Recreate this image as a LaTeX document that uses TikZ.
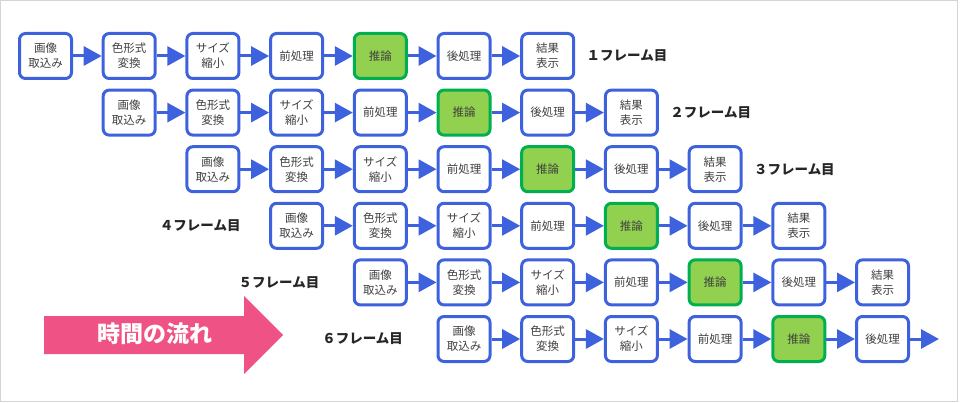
\documentclass[tikz,border=0pt]{standalone}
\usepackage{fontspec}
\newfontfamily\jp{Noto Sans CJK JP}
\usepackage{xcolor}
\usepackage{tikz}
\usetikzlibrary{arrows.meta, positioning}

\definecolor{flowblue}{RGB}{62,98,222}
\definecolor{infergreen}{RGB}{0,176,80}
\definecolor{inferfill}{RGB}{146,208,80}
\definecolor{timepink}{RGB}{239,82,133}
\definecolor{framegray}{RGB}{212,212,212}

\begin{document}
\begin{tikzpicture}[
    x=1pt, y=-1pt,
    node distance=28.7pt,
    stage/.style  = {draw=flowblue, line width=3pt, rounded corners=6pt,
                     fill=white, minimum width=52pt, minimum height=45pt,
                     inner sep=1pt, align=center, text=black!75,
                     font=\jp\fontsize{11.5}{15}\selectfont},
    infer/.style  = {stage, draw=infergreen, fill=inferfill},
    framelab/.style = {font=\jp\bfseries\fontsize{13.5}{15}\selectfont,
                     text=black!85},
    flow/.style   = {-{Triangle[length=18pt,width=19pt]}, draw=flowblue,
                     line width=3pt},
    timelab/.style = {font=\jp\bfseries\fontsize{23}{25}\selectfont,
                     text=white}
]

% ---------------- outer frame ----------------
\useasboundingbox (0,0) rectangle (960,403);
\draw[framegray, line width=1pt] (0.5,0.5) rectangle (957.5,401.5);

% ---------------- frame 1 ----------------
\node[stage] (img1) at (45.5,56) {画像\\取込み};
\node[stage, right=of img1]  (conv1) {色形式\\変換};
\node[stage, right=of conv1] (size1) {サイズ\\縮小};
\node[stage, right=of size1] (pre1)  {前処理};
\node[infer, right=of pre1]  (inf1)  {推論};
\node[stage, right=of inf1]  (post1) {後処理};
\node[stage, right=of post1] (disp1) {結果\\表示};
\node[framelab, right=8pt of disp1] (lab1) {１フレーム目};

% ---------------- frame 2 ----------------
\node[stage] (img2) at (129.2,112.6) {画像\\取込み};
\node[stage, right=of img2]  (conv2) {色形式\\変換};
\node[stage, right=of conv2] (size2) {サイズ\\縮小};
\node[stage, right=of size2] (pre2)  {前処理};
\node[infer, right=of pre2]  (inf2)  {推論};
\node[stage, right=of inf2]  (post2) {後処理};
\node[stage, right=of post2] (disp2) {結果\\表示};
\node[framelab, right=8pt of disp2] (lab2) {２フレーム目};

% ---------------- frame 3 ----------------
\node[stage] (img3) at (212.9,169.2) {画像\\取込み};
\node[stage, right=of img3]  (conv3) {色形式\\変換};
\node[stage, right=of conv3] (size3) {サイズ\\縮小};
\node[stage, right=of size3] (pre3)  {前処理};
\node[infer, right=of pre3]  (inf3)  {推論};
\node[stage, right=of inf3]  (post3) {後処理};
\node[stage, right=of post3] (disp3) {結果\\表示};
\node[framelab, right=8pt of disp3] (lab3) {３フレーム目};

% ---------------- frame 4 ----------------
\node[stage] (img4) at (296.6,225.8) {画像\\取込み};
\node[stage, right=of img4]  (conv4) {色形式\\変換};
\node[stage, right=of conv4] (size4) {サイズ\\縮小};
\node[stage, right=of size4] (pre4)  {前処理};
\node[infer, right=of pre4]  (inf4)  {推論};
\node[stage, right=of inf4]  (post4) {後処理};
\node[stage, right=of post4] (disp4) {結果\\表示};
\node[framelab, left=25pt of img4] (lab4) {４フレーム目};

% ---------------- frame 5 ----------------
\node[stage] (img5) at (380.3,282.4) {画像\\取込み};
\node[stage, right=of img5]  (conv5) {色形式\\変換};
\node[stage, right=of conv5] (size5) {サイズ\\縮小};
\node[stage, right=of size5] (pre5)  {前処理};
\node[infer, right=of pre5]  (inf5)  {推論};
\node[stage, right=of inf5]  (post5) {後処理};
\node[stage, right=of post5] (disp5) {結果\\表示};
\node[framelab, left=30pt of img5] (lab5) {５フレーム目};

% ---------------- frame 6 ----------------
\node[stage] (img6) at (464,339) {画像\\取込み};
\node[stage, right=of img6]  (conv6) {色形式\\変換};
\node[stage, right=of conv6] (size6) {サイズ\\縮小};
\node[stage, right=of size6] (pre6)  {前処理};
\node[infer, right=of pre6]  (inf6)  {推論};
\node[stage, right=of inf6]  (post6) {後処理};
\node[framelab, left=30pt of img6] (lab6) {６フレーム目};
\coordinate (end6) at ([xshift=29pt]post6.east);

% ============= stage arrows =============
\draw[flow] (img1) -- (conv1);  \draw[flow] (conv1) -- (size1);
\draw[flow] (size1) -- (pre1);  \draw[flow] (pre1) -- (inf1);
\draw[flow] (inf1) -- (post1);  \draw[flow] (post1) -- (disp1);

\draw[flow] (img2) -- (conv2);  \draw[flow] (conv2) -- (size2);
\draw[flow] (size2) -- (pre2);  \draw[flow] (pre2) -- (inf2);
\draw[flow] (inf2) -- (post2);  \draw[flow] (post2) -- (disp2);

\draw[flow] (img3) -- (conv3);  \draw[flow] (conv3) -- (size3);
\draw[flow] (size3) -- (pre3);  \draw[flow] (pre3) -- (inf3);
\draw[flow] (inf3) -- (post3);  \draw[flow] (post3) -- (disp3);

\draw[flow] (img4) -- (conv4);  \draw[flow] (conv4) -- (size4);
\draw[flow] (size4) -- (pre4);  \draw[flow] (pre4) -- (inf4);
\draw[flow] (inf4) -- (post4);  \draw[flow] (post4) -- (disp4);

\draw[flow] (img5) -- (conv5);  \draw[flow] (conv5) -- (size5);
\draw[flow] (size5) -- (pre5);  \draw[flow] (pre5) -- (inf5);
\draw[flow] (inf5) -- (post5);  \draw[flow] (post5) -- (disp5);

\draw[flow] (img6) -- (conv6);  \draw[flow] (conv6) -- (size6);
\draw[flow] (size6) -- (pre6);  \draw[flow] (pre6) -- (inf6);
\draw[flow] (inf6) -- (post6);  \draw[flow] (post6) -- (end6);

% ============= time arrow =============
\fill[timepink] (44,316) -- (244,316) -- (244,296) -- (283,335)
                -- (244,374) -- (244,354) -- (44,354) -- cycle;
\node[timelab] (time) at (155,334) {時間の流れ};

\end{tikzpicture}
\end{document}
